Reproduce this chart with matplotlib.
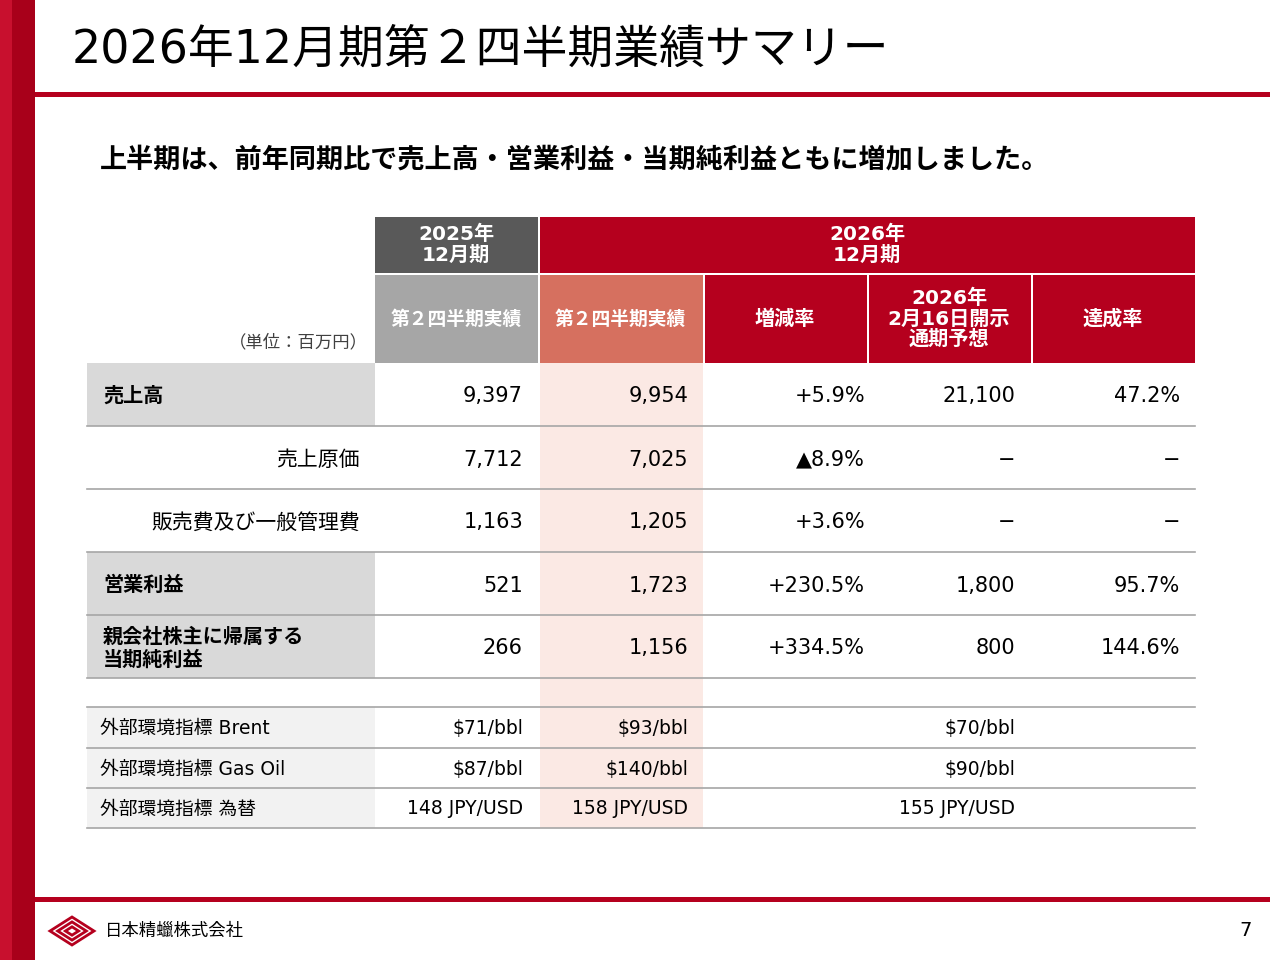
import matplotlib.pyplot as plt
from matplotlib.patches import Rectangle, Polygon

plt.rcParams['font.family'] = ['DejaVu Sans', 'Noto Sans CJK JP']

RED = '#B5001E'
DARK = '#595959'
GRAY_H = '#A6A6A6'
SALMON = '#D6705F'
PINK = '#FBE9E4'

title = '2026年12月期第２四半期業績サマリー'
subtitle = '上半期は、前年同期比で売上高・営業利益・当期純利益ともに増加しました。'
unit_label = '（単位：百万円）'

row_labels = ['売上高', '売上原価', '販売費及び一般管理費', '営業利益', '親会社株主に帰属する\n当期純利益']
row_bold = [True, False, False, True, True]
prev_q2 = ['9,397', '7,712', '1,163', '521', '266']
curr_q2 = ['9,954', '7,025', '1,205', '1,723', '1,156']
change = ['+5.9%', '▲8.9%', '+3.6%', '+230.5%', '+334.5%']
forecast = ['21,100', '−', '−', '1,800', '800']
achieve = ['47.2%', '−', '−', '95.7%', '144.6%']

env_labels = ['外部環境指標 Brent', '外部環境指標 Gas Oil', '外部環境指標 為替']
env_prev = ['$71/bbl', '$87/bbl', '148 JPY/USD']
env_curr = ['$93/bbl', '$140/bbl', '158 JPY/USD']
env_fcst = ['$70/bbl', '$90/bbl', '155 JPY/USD']

fig = plt.figure(figsize=(12.8, 9.6), dpi=100)
ax = fig.add_axes([0, 0, 1, 1])
ax.set_xlim(0, 1280)
ax.set_ylim(960, 0)
ax.axis('off')

# left bar and rules
ax.add_patch(Rectangle((0, 0), 35, 960, color='#A8001A', lw=0))
ax.add_patch(Rectangle((0, 0), 12, 960, color='#C8102E', lw=0))
ax.add_patch(Rectangle((35, 92), 1235, 5, color=RED, lw=0))
ax.add_patch(Rectangle((35, 897), 1235, 5, color=RED, lw=0))

ax.text(72, 50, title, fontsize=33, va='center', ha='left', color='black')
ax.text(100, 160, subtitle, fontsize=19.5, fontweight='bold', va='center')

cx = [87, 375, 538, 703, 867, 1031, 1195]

def rect(x0, y0, x1, y1, c):
    ax.add_patch(Rectangle((x0, y0), x1 - x0, y1 - y0, color=c, lw=0))

# header
rect(375, 217, 538, 273, DARK)
rect(540, 217, 1195, 273, RED)
rect(375, 275, 538, 363, GRAY_H)
rect(540, 275, 703, 363, SALMON)
for i in range(3, 6):
    rect(cx[i] + 2, 275, cx[i + 1], 363, RED)
hw = dict(color='white', fontweight='bold', ha='center', va='center', fontsize=14.5)
ax.text(456, 245, '2025年\n12月期', linespacing=1.1, **hw)
ax.text(867, 245, '2026年\n12月期', linespacing=1.1, **hw)
ax.text(456, 319, '第２四半期実績', **dict(hw, fontsize=13.5))
ax.text(620, 319, '第２四半期実績', **dict(hw, fontsize=13.5))
ax.text(785, 319, '増減率', **hw)
ax.text(949, 319, '2026年\n2月16日開示\n通期予想', linespacing=1.1, **hw)
ax.text(1113, 319, '達成率', **hw)
ax.text(368, 342, unit_label, ha='right', va='center', fontsize=12.5, color='#404040')

# pink column background
rect(540, 363, 703, 828, PINK)

row_y = [363, 426, 489, 552, 615, 678]
for i, lab in enumerate(row_labels):
    y0, y1 = row_y[i], row_y[i + 1]
    ym = (y0 + y1) / 2 + 2
    if row_bold[i]:
        rect(87, y0, 375, y1, '#D9D9D9')
        ax.text(103, ym, lab, fontsize=14.5, fontweight='bold', va='center', ha='left', linespacing=1.2)
    else:
        ax.text(360, ym, lab, fontsize=15, va='center', ha='right')
    vals = [prev_q2[i], curr_q2[i], change[i], forecast[i], achieve[i]]
    rights = [523, 688, 865, 1015, 1180]
    for v, r in zip(vals, rights):
        ax.text(r, ym, v, fontsize=15, va='center', ha='right')
    ax.plot([87, 1195], [y1, y1], color='#A6A6A6', lw=1.2)

env_y = [707, 748, 788, 828]
ax.plot([87, 1195], [707, 707], color='#A6A6A6', lw=1.2)
for i, lab in enumerate(env_labels):
    y0, y1 = env_y[i], env_y[i + 1]
    ym = (y0 + y1) / 2 + 1
    rect(87, y0, 375, y1, '#F2F2F2')
    ax.text(100, ym, lab, fontsize=13.5, va='center', ha='left')
    ax.text(523, ym, env_prev[i], fontsize=13.5, va='center', ha='right')
    ax.text(688, ym, env_curr[i], fontsize=13.5, va='center', ha='right')
    ax.text(1015, ym, env_fcst[i], fontsize=13.5, va='center', ha='right')
    ax.plot([87, 1195], [y1, y1], color='#A6A6A6', lw=1.2)

# footer logo
for s in [20, 13, 6]:
    ax.add_patch(Polygon([(72 - s * 1.1, 931), (72, 931 - s * 0.7), (72 + s * 1.1, 931), (72, 931 + s * 0.7)],
                         closed=True, fill=False, edgecolor=RED, lw=2))
ax.text(105, 931, '日本精蠟株式会社', fontsize=12.5, va='center', ha='left')
ax.text(1252, 931, '7', fontsize=14, va='center', ha='right')

fig.savefig('out.png', dpi=100)
